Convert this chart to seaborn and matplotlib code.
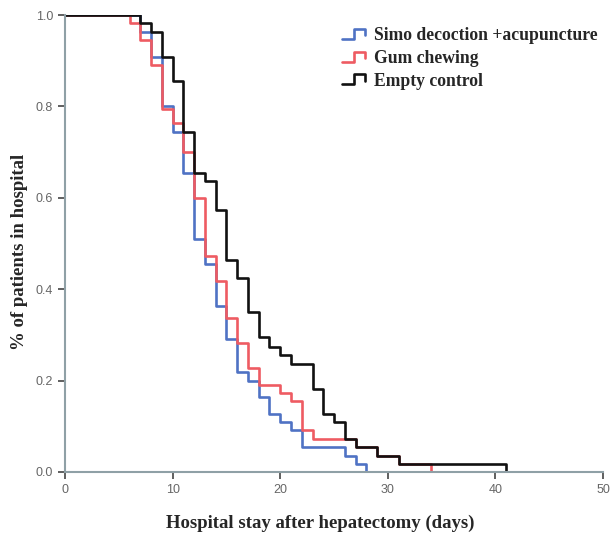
import pandas as pd
import matplotlib.pyplot as plt
import seaborn as sns
from matplotlib.lines import Line2D
from matplotlib.legend_handler import HandlerLine2D

# Kaplan-Meier style curves (day of event, proportion still in hospital)
groups = ['Simo decoction +acupuncture', 'Gum chewing', 'Empty control']

simo_days = [0, 7, 8, 9, 10, 11, 12, 13, 14, 15, 16, 17, 18, 19, 20, 21, 22, 26, 27, 28]
simo_surv = [1.0, 0.964, 0.909, 0.800, 0.745, 0.655, 0.509, 0.455, 0.364, 0.291,
             0.218, 0.200, 0.164, 0.127, 0.109, 0.091, 0.055, 0.036, 0.018, 0.0]

gum_days = [0, 6, 7, 8, 9, 10, 11, 12, 13, 14, 15, 16, 17, 18, 20, 21, 22, 23, 27, 29, 31, 34]
gum_surv = [1.0, 0.982, 0.945, 0.891, 0.795, 0.764, 0.700, 0.600, 0.473, 0.418, 0.336,
            0.282, 0.227, 0.191, 0.173, 0.155, 0.091, 0.073, 0.055, 0.036, 0.018, 0.0]

ctrl_days = [0, 7, 8, 9, 10, 11, 12, 13, 14, 15, 16, 17, 18, 19, 20, 21, 23, 24, 25, 26, 27, 29, 31, 41]
ctrl_surv = [1.0, 0.982, 0.964, 0.909, 0.855, 0.745, 0.655, 0.636, 0.573, 0.464, 0.424,
             0.351, 0.296, 0.273, 0.255, 0.236, 0.182, 0.127, 0.109, 0.073, 0.055, 0.036, 0.018, 0.0]

colors = ['#4f72c4', '#ee5b62', '#111111']

df = pd.concat([
    pd.DataFrame({'day': simo_days, 'surv': simo_surv, 'group': groups[0]}),
    pd.DataFrame({'day': gum_days, 'surv': gum_surv, 'group': groups[1]}),
    pd.DataFrame({'day': ctrl_days, 'surv': ctrl_surv, 'group': groups[2]}),
])


class StepHandler(HandlerLine2D):
    # little step-shaped legend keys like the SPSS output
    def create_artists(self, legend, orig_handle, xdescent, ydescent, width, height, fontsize, trans):
        x0, y0 = -xdescent, -ydescent
        xs = [x0, x0 + 0.5 * width, x0 + 0.5 * width, x0 + width, x0 + width]
        ys = [y0 + 0.1 * height, y0 + 0.1 * height, y0 + 0.9 * height, y0 + 0.9 * height, y0 + 0.4 * height]
        ln = Line2D(xs, ys, color=orig_handle.get_color(), lw=orig_handle.get_linewidth())
        ln.set_transform(trans)
        return [ln]


sns.set_style('ticks')
plt.rcParams['font.family'] = ['DejaVu Sans']

fig = plt.figure(figsize=(6.1, 5.35), dpi=100)
ax = fig.add_axes([0.1066, 0.1178, 0.882, 0.854])

sns.lineplot(data=df, x='day', y='surv', hue='group', hue_order=groups, palette=colors,
             drawstyle='steps-post', estimator=None, sort=False, linewidth=1.9, ax=ax, legend=False)

ax.set_xlim(0, 50)
ax.set_ylim(0, 1.0)
ax.set_xticks(range(0, 51, 10))
ax.set_yticks([0.0, 0.2, 0.4, 0.6, 0.8, 1.0])
ax.set_yticklabels(['0.0', '0.2', '0.4', '0.6', '0.8', '1.0'])

spine_col = '#8fa0a6'
for s in ['top', 'right']:
    ax.spines[s].set_visible(False)
for s in ['left', 'bottom']:
    ax.spines[s].set_color(spine_col)
    ax.spines[s].set_linewidth(1.5)
ax.tick_params(axis='both', colors='#444444', labelcolor='#666666', labelsize=9, length=5, width=1.2, direction='out')
for t in ax.get_xticklabels() + ax.get_yticklabels():
    t.set_family('Liberation Sans')

ax.set_xlabel('Hospital stay after hepatectomy (days)', family='Liberation Serif',
              fontweight='bold', fontsize=13.5)
ax.set_ylabel('% of patients in hospital', family='Liberation Serif',
              fontweight='bold', fontsize=13.5)
# reference labels sit slightly off-centre
ax.xaxis.set_label_coords(0.474, -0.093)
ax.yaxis.set_label_coords(-0.069, 0.481)

handles = [Line2D([0], [0], color=c, lw=1.9) for c in colors]
leg = ax.legend(handles, groups, loc='upper right', bbox_to_anchor=(1.0, 0.985), frameon=False,
                handler_map={Line2D: StepHandler()}, handlelength=1.3, handletextpad=0.5,
                labelspacing=0.32, borderaxespad=0.1, borderpad=0.2,
                prop={'family': 'Liberation Serif', 'weight': 'bold', 'size': 12.7})

fig.savefig('out.png', dpi=100, facecolor='white')
